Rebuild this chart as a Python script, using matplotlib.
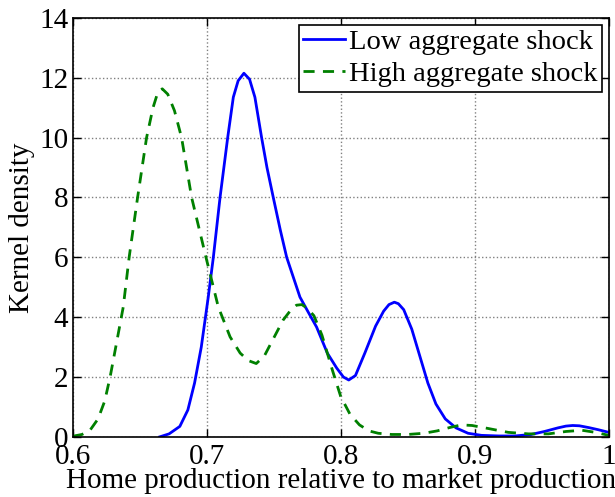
import matplotlib
matplotlib.use("Agg")
from matplotlib import pyplot as plt

# values
low_x = [0.665, 0.672, 0.680, 0.686, 0.691, 0.696, 0.7012, 0.705, 0.710, 0.7157,
         0.7199, 0.7235, 0.7278, 0.732, 0.736, 0.741, 0.745, 0.7497, 0.755, 0.7597,
         0.7696, 0.776, 0.782, 0.790, 0.797, 0.802, 0.806, 0.811, 0.818, 0.826,
         0.832, 0.836, 0.840, 0.843, 0.847, 0.853, 0.859, 0.865, 0.871, 0.878,
         0.886, 0.895, 0.905, 0.918, 0.930, 0.942, 0.952, 0.962, 0.968, 0.973,
         0.978, 0.985, 0.992, 1.000]
low_y = [0.0, 0.1, 0.35, 0.9, 1.8, 3.0, 4.67, 6.0, 8.0, 10.0,
         11.35, 11.9, 12.15, 11.95, 11.35, 10.0, 9.0, 8.0, 6.9, 6.0,
         4.67, 4.15, 3.67, 2.8, 2.3, 2.0, 1.9, 2.05, 2.8, 3.7,
         4.2, 4.42, 4.5, 4.45, 4.25, 3.6, 2.7, 1.8, 1.1, 0.6,
         0.3, 0.12, 0.05, 0.03, 0.03, 0.08, 0.18, 0.3, 0.36, 0.38,
         0.37, 0.31, 0.24, 0.15]

high_x = [0.600, 0.607, 0.613, 0.619, 0.624, 0.628, 0.632, 0.6378, 0.6422, 0.6485,
          0.6552, 0.660, 0.6635, 0.6669, 0.671, 0.676, 0.6813, 0.6888, 0.6995, 0.7087,
          0.7175, 0.725, 0.731, 0.737, 0.743, 0.750, 0.757, 0.763, 0.767, 0.771,
          0.775, 0.780, 0.786, 0.794, 0.800, 0.807, 0.814, 0.821, 0.828, 0.838,
          0.850, 0.862, 0.872, 0.882, 0.890, 0.898, 0.910, 0.925, 0.940, 0.955,
          0.968, 0.980, 0.990, 1.000]
high_y = [0.02, 0.08, 0.22, 0.6, 1.2, 2.0, 2.95, 4.34, 6.0, 8.0,
          10.0, 11.0, 11.5, 11.63, 11.45, 10.9, 10.0, 8.0, 6.0, 4.34,
          3.34, 2.8, 2.55, 2.45, 2.7, 3.3, 3.9, 4.25, 4.4, 4.42,
          4.3, 4.05, 3.4, 2.2, 1.35, 0.75, 0.4, 0.2, 0.12, 0.08,
          0.08, 0.12, 0.2, 0.32, 0.4, 0.38, 0.28, 0.15, 0.1, 0.1,
          0.18, 0.22, 0.15, 0.05]

x_ticks = [0.6, 0.7, 0.8, 0.9, 1.0]
x_tick_labels = ['0.6', '0.7', '0.8', '0.9', '1']
y_ticks = [0, 2, 4, 6, 8, 10, 12, 14]

plt.rcParams['font.family'] = ['Liberation Serif', 'DejaVu Serif']

fig = plt.figure(figsize=(6.15, 4.97), dpi=100)
ax = fig.add_axes([0.118, 0.121, 0.872, 0.843])

ax.plot(low_x, low_y, '-', color='#0000ff', lw=2, label='Low aggregate shock')
ax.plot(high_x, high_y, '--', color='#008000', lw=2, dashes=(4, 3),
        label='High aggregate shock')

ax.set_xlim(0.6, 1.0)
ax.set_ylim(0, 14)
ax.set_xticks(x_ticks)
ax.set_xticklabels(x_tick_labels)
ax.set_yticks(y_ticks)
ax.tick_params(direction='in', top=True, right=True, labelsize=21,
               length=6, width=1)
ax.tick_params(axis='x', pad=5)
ax.tick_params(axis='y', pad=3)
ax.grid(True, linestyle=':', color='#808080', lw=1)
for s in ax.spines.values():
    s.set_linewidth(1.2)

ax.set_xlabel('Home production relative to market production', fontsize=21,
              labelpad=-1)
ax.set_ylabel('Kernel density', fontsize=21, labelpad=3)

leg = ax.legend(loc='upper right', fontsize=20.5, fancybox=False,
                framealpha=1, edgecolor='black', borderpad=0.15,
                handlelength=1.45, handletextpad=0.15, labelspacing=0.22,
                borderaxespad=0.25)
leg.get_frame().set_linewidth(1.2)

fig.savefig('out.png', dpi=100)
